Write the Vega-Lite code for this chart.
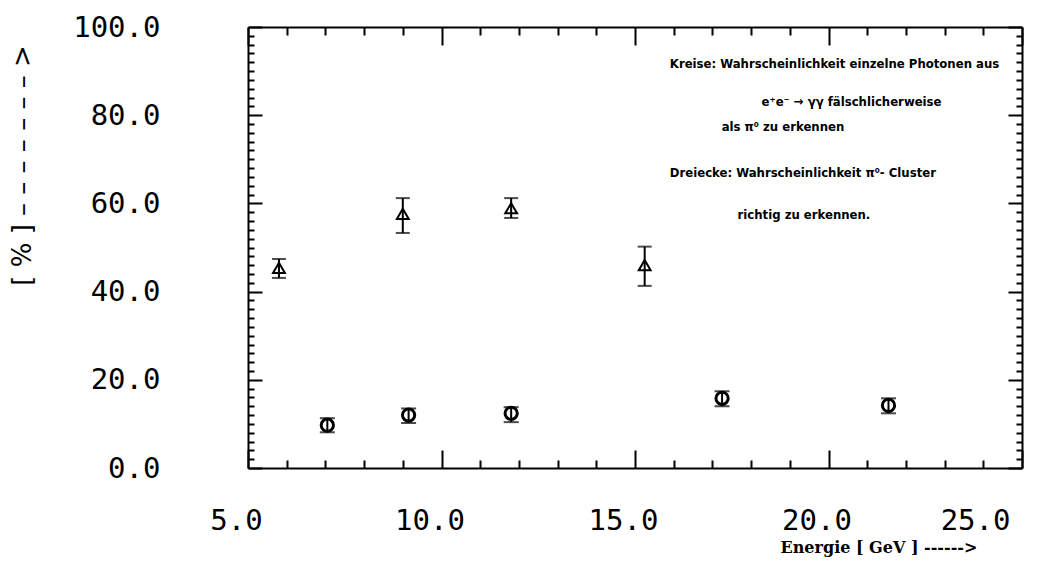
{
  "$schema": "https://vega.github.io/schema/vega-lite/v6.json",
  "width": 774,
  "height": 441,
  "autosize": "none",
  "padding": {"left": 248, "top": 27, "right": 22, "bottom": 103},
  "background": "white",
  "config": {
    "view": {"stroke": null, "fill": null},
    "axis": {
      "domainColor": "black",
      "domainWidth": 2,
      "ticks": false,
      "zindex": 1,
      "labelColor": "black",
      "labelFont": "DejaVu Sans Mono",
      "labelFontSize": 29,
      "labelFlush": false,
      "labelOverlap": false,
      "titleColor": "black",
      "gridColor": "black",
      "gridOpacity": 1,
      "gridWidth": 2
    }
  },
  "datasets": {
    "tri": [
      {"energie": 5.8, "p": 45.4, "lo": 43.1, "hi": 47.4},
      {"energie": 9.0, "p": 57.6, "lo": 53.3, "hi": 61.2},
      {"energie": 11.8, "p": 58.9, "lo": 56.7, "hi": 61.2},
      {"energie": 15.25, "p": 46.0, "lo": 41.3, "hi": 50.2}
    ],
    "circ": [
      {"energie": 7.05, "p": 9.7, "lo": 8.1, "hi": 11.3},
      {"energie": 9.15, "p": 12.0, "lo": 10.2, "hi": 13.5},
      {"energie": 11.8, "p": 12.4, "lo": 10.4, "hi": 13.8},
      {"energie": 17.25, "p": 15.8, "lo": 14.0, "hi": 17.4},
      {"energie": 21.55, "p": 14.2, "lo": 12.4, "hi": 15.8}
    ],
    "notes": [
      {"ex": 15.9, "py": 91.6, "text": "Kreise: Wahrscheinlichkeit einzelne Photonen aus"},
      {"ex": 18.27, "py": 83.1, "text": "e⁺e⁻ → γγ  fälschlicherweise"},
      {"ex": 17.24, "py": 77.4, "text": "als π⁰ zu erkennen"},
      {"ex": 15.9, "py": 67.0, "text": "Dreiecke: Wahrscheinlichkeit π⁰- Cluster"},
      {"ex": 17.65, "py": 57.3, "text": "richtig zu erkennen."}
    ]
  },
  "layer": [
    {
      "data": {"name": "tri"},
      "mark": {"type": "errorbar", "color": "black", "thickness": 2, "size": 14, "ticks": true},
      "encoding": {
        "x": {
          "field": "energie", "type": "quantitative",
          "scale": {"domain": [5, 25], "nice": false, "zero": false},
          "axis": {
            "orient": "bottom",
            "values": [5,6,7,8,9,10,11,12,13,14,15,16,17,18,19,20,21,22,23,24,25],
            "labelExpr": "datum.value % 5 === 0 ? format(datum.value, '.1f') : ''",
            "grid": true,
            "gridDash": {"condition": {"test": "datum.value % 5 === 0", "value": [18, 405, 18, 2000]}, "value": [8, 425, 8, 2000]},
            "labelPadding": 38,
            "labelOffset": -12,
            "labelAlign": {"condition": {"test": "datum.value === 25", "value": "right"}, "value": "center"},
            "labelBaseline": "top",
            "title": "Energie [ GeV ] ------>",
            "titleFont": "DejaVu Serif",
            "titleFontWeight": "bold",
            "titleFontSize": 16,
            "titleAlign": "left",
            "titleBaseline": "middle",
            "titleX": 532,
            "titleY": 79
          }
        },
        "y": {
          "field": "lo", "type": "quantitative",
          "scale": {"domain": [0, 100], "nice": false, "zero": false},
          "axis": {
            "orient": "left",
            "values": [0,2,4,6,8,10,12,14,16,18,20,22,24,26,28,30,32,34,36,38,40,42,44,46,48,50,52,54,56,58,60,62,64,66,68,70,72,74,76,78,80,82,84,86,88,90,92,94,96,98,100],
            "labelExpr": "datum.value % 20 === 0 ? format(datum.value, '.1f') : ''",
            "grid": true,
            "gridDash": {"condition": {"test": "datum.value % 20 === 0", "value": [14, 746, 14, 2000]}, "value": [6, 762, 6, 2000]},
            "labelPadding": 88,
            "labelBaseline": "middle",
            "title": "[  %  ]        – – – – – – –   >",
            "titleFont": "DejaVu Sans",
            "titleFontWeight": "normal",
            "titleFontSize": 26,
            "titleAngle": -90,
            "titleAlign": "center",
            "titleBaseline": "middle",
            "titleX": -226,
            "titleY": 138
          }
        },
        "y2": {"field": "hi"}
      }
    },
    {
      "data": {"name": "tri"},
      "mark": {"type": "point", "shape": "triangle-up", "filled": false, "stroke": "black", "strokeWidth": 2, "size": 140, "opacity": 1},
      "encoding": {
        "x": {"field": "energie", "type": "quantitative", "axis": {"orient": "top", "labels": false, "title": null, "grid": false}},
        "y": {"field": "p", "type": "quantitative", "axis": {"orient": "right", "labels": false, "title": null, "grid": false}}
      }
    },
    {
      "data": {"name": "circ"},
      "mark": {"type": "errorbar", "color": "black", "thickness": 2, "size": 15, "ticks": true},
      "encoding": {
        "x": {"field": "energie", "type": "quantitative", "axis": null},
        "y": {"field": "lo", "type": "quantitative", "axis": null},
        "y2": {"field": "hi"}
      }
    },
    {
      "data": {"name": "circ"},
      "mark": {"type": "point", "shape": "circle", "filled": false, "stroke": "black", "strokeWidth": 3, "size": 150, "opacity": 1},
      "encoding": {
        "x": {"field": "energie", "type": "quantitative", "axis": null},
        "y": {"field": "p", "type": "quantitative", "axis": null}
      }
    },
    {
      "data": {"name": "notes"},
      "mark": {"type": "text", "align": "left", "baseline": "middle", "font": "Liberation Sans Narrow, DejaVu Sans Condensed, Liberation Sans", "fontWeight": "bold", "fontSize": 13, "color": "black"},
      "encoding": {
        "x": {"field": "ex", "type": "quantitative", "axis": null},
        "y": {"field": "py", "type": "quantitative", "axis": null},
        "text": {"field": "text"}
      }
    }
  ],
  "resolve": {"axis": {"x": "independent", "y": "independent"}}
}
